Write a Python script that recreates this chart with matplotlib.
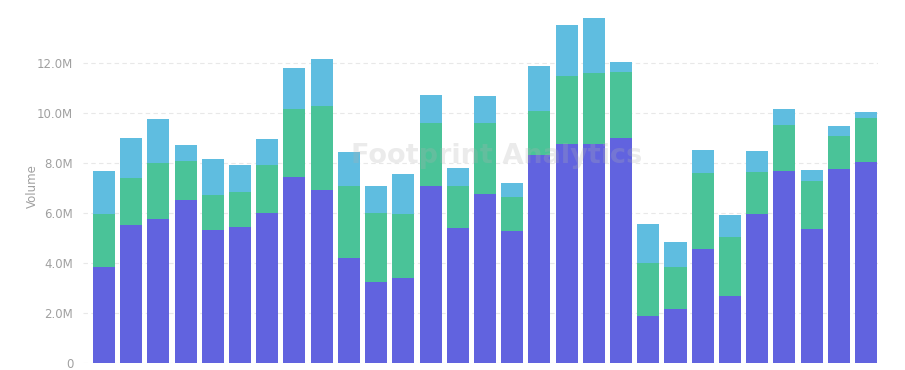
import matplotlib.pyplot as plt
from matplotlib.ticker import FuncFormatter

# stacked volume per day, in millions
purple = [3.84, 5.52, 5.76, 6.52, 5.32, 5.44, 6.00, 7.44, 6.92, 4.20,
          3.24, 3.40, 7.08, 5.40, 6.76, 5.28, 8.32, 8.76, 8.76, 9.00,
          1.88, 2.16, 4.56, 2.68, 5.96, 7.68, 5.36, 7.76, 8.04]
green = [2.12, 1.88, 2.24, 1.58, 1.40, 1.40, 1.92, 2.72, 3.36, 2.88,
         2.76, 2.56, 2.52, 1.68, 2.84, 1.36, 1.76, 2.72, 2.84, 2.64,
         2.12, 1.68, 3.04, 2.36, 1.68, 1.84, 1.92, 1.32, 1.76]
cyan = [1.72, 1.60, 1.76, 0.62, 1.44, 1.08, 1.04, 1.64, 1.88, 1.36,
        1.08, 1.60, 1.12, 0.72, 1.08, 0.56, 1.80, 2.04, 2.20, 0.40,
        1.56, 1.00, 0.92, 0.88, 0.84, 0.64, 0.44, 0.40, 0.24]
yticks = [0, 2, 4, 6, 8, 10, 12]

x = list(range(len(purple)))
bottom2 = [a + b for a, b in zip(purple, green)]

fig = plt.figure(figsize=(9.05, 3.70), dpi=100)
ax = fig.add_axes([83 / 905, 7 / 370, 795 / 905, 353 / 370])

w = 0.81
ax.bar(x, purple, width=w, color="#6163df", zorder=2)
ax.bar(x, green, width=w, bottom=purple, color="#4ac398", zorder=2)
ax.bar(x, cyan, width=w, bottom=bottom2, color="#5fbde0", zorder=2)

ax.set_xlim(-0.77, 28.44)
ax.set_ylim(0, 14.12)
ax.set_yticks(yticks)
ax.yaxis.set_major_formatter(FuncFormatter(lambda v, p: "0" if v == 0 else "%.1fM" % v))
ax.grid(axis="y", color="#e8e8e8", linestyle=(0, (4, 3)), linewidth=0.8, zorder=0)
ax.set_xticks([])
ax.tick_params(axis="y", length=0, pad=7, labelsize=8.5, labelcolor="#a0a0a0")
for s in ax.spines.values():
    s.set_visible(False)
ax.set_ylabel("Volume", fontsize=8.5, color="#a0a0a0", labelpad=-1)

# watermark
ax.text(0.52, 0.585, "Footprint Analytics", transform=ax.transAxes, ha="center", va="center",
        fontsize=19.5, fontweight="bold", color="#b0b0b0", alpha=0.25, zorder=3)

plt.savefig("out.png", dpi=100)
